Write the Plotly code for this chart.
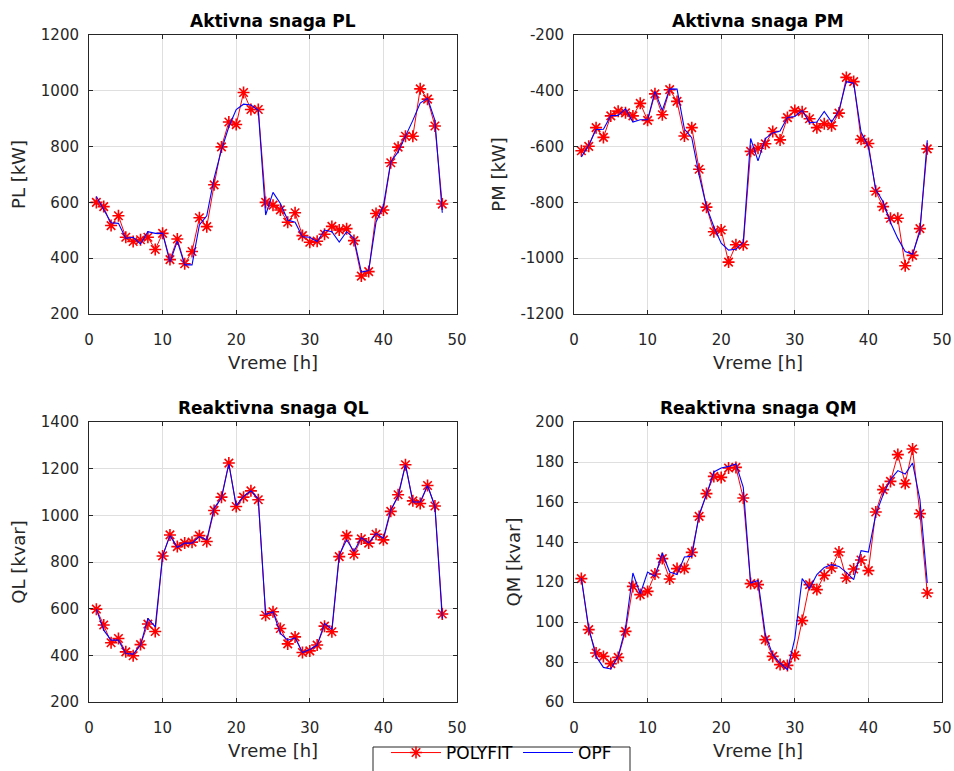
import plotly.graph_objects as go

hours = list(range(1, 49))

PL_polyfit = [600, 585, 517, 552, 475, 460, 466, 475, 431, 489,
              395, 469, 380, 424, 545, 513, 663, 799, 888, 879,
              994, 933, 933, 600, 590, 573, 529, 563, 481, 457,
              461, 486, 514, 501, 506, 463, 336, 352, 560, 573,
              742, 798, 837, 837, 1007, 970, 874, 594]
PL_opf = [621, 575, 527, 525, 471, 475, 451, 495, 489, 490,
          386, 461, 376, 376, 519, 552, 687, 788, 871, 933,
          952, 949, 930, 555, 636, 596, 537, 529, 477, 475,
          460, 501, 495, 458, 495, 471, 350, 356, 530, 588,
          745, 781, 835, 894, 956, 973, 894, 563]

PM_polyfit = [-615, -599, -532, -567, -490, -473, -479, -490, -445, -506,
              -411, -486, -396, -438, -562, -532, -681, -817, -905, -899,
              -1014, -952, -952, -617, -606, -590, -546, -576, -496, -471,
              -475, -500, -532, -518, -525, -480, -352, -367, -574, -589,
              -760, -815, -857, -857, -1027, -990, -894, -608]
PM_opf = [-637, -595, -539, -538, -489, -488, -465, -512, -504, -504,
          -402, -470, -393, -394, -537, -568, -702, -815, -887, -946,
          -971, -968, -942, -571, -651, -571, -551, -544, -496, -492,
          -470, -515, -512, -474, -512, -470, -367, -373, -548, -601,
          -754, -798, -872, -929, -976, -986, -905, -577]

QL_polyfit = [598, 530, 454, 472, 415, 398, 446, 534, 502, 826,
              916, 866, 881, 885, 913, 888, 1021, 1078, 1224, 1038,
              1078, 1105, 1067, 572, 587, 515, 449, 479, 412, 419,
              444, 525, 501, 823, 913, 833, 899, 881, 919, 895,
              1017, 1088, 1217, 1062, 1051, 1128, 1040, 577]
QL_opf = [598, 508, 465, 465, 408, 405, 444, 558, 522, 826,
          913, 862, 881, 881, 909, 895, 1031, 1074, 1220, 1042,
          1081, 1105, 1071, 575, 587, 494, 465, 475, 412, 425,
          444, 537, 511, 830, 895, 845, 905, 881, 923, 902,
          1024, 1081, 1217, 1057, 1057, 1128, 1038, 558]

QM_polyfit = [121.7, 96.2, 84.5, 82.8, 79.2, 82.3, 95.3, 117.8, 113.7, 115.3,
              124.0, 131.7, 121.5, 126.7, 126.7, 134.8, 152.8, 164.2, 172.8, 172.3,
              177.0, 177.3, 162.0, 119.2, 118.7, 91.2, 82.8, 78.7, 78.3, 83.3,
              100.7, 118.7, 116.2, 123.3, 127.0, 135.0, 122.0, 126.5, 131.0, 125.7,
              155.0, 166.2, 170.3, 183.7, 169.2, 186.5, 154.2, 114.5]
QM_opf = [122.0, 97.0, 82.8, 77.3, 76.5, 82.8, 97.0, 124.5, 114.0, 125.0,
          122.8, 134.5, 125.0, 123.7, 132.5, 132.8, 153.7, 163.7, 175.0, 177.0,
          177.8, 179.0, 167.3, 119.5, 120.8, 93.7, 83.7, 79.5, 76.2, 91.7,
          121.7, 116.7, 123.7, 127.3, 128.7, 127.8, 124.8, 121.2, 135.7, 135.0,
          153.7, 163.7, 171.2, 175.7, 174.0, 179.5, 161.2, 119.5]

titles = ["Aktivna snaga PL", "Aktivna snaga PM", "Reaktivna snaga QL", "Reaktivna snaga QM"]
ylabels = ["PL [kW]", "PM [kW]", "QL [kvar]", "QM [kvar]"]
xlabel = "Vreme [h]"
x_ticks = [0, 10, 20, 30, 40, 50]
y_ticks = [
    [200, 400, 600, 800, 1000, 1200],
    [-1200, -1000, -800, -600, -400, -200],
    [200, 400, 600, 800, 1000, 1200, 1400],
    [60, 80, 100, 120, 140, 160, 180, 200],
]
series = [(PL_polyfit, PL_opf), (PM_polyfit, PM_opf), (QL_polyfit, QL_opf), (QM_polyfit, QM_opf)]

W, H = 954, 771
# axes boxes in pixels (left, right, top, bottom)
boxes = [(89, 457, 35, 314), (574, 942, 35, 314), (89, 457, 422, 702), (574, 942, 422, 702)]

AX = "#262626"
GRID = "#dfdfdf"
FONT = "DejaVu Sans"

fig = go.Figure()
for i, (poly, opf) in enumerate(series):
    sfx = "" if i == 0 else str(i + 1)
    fig.add_trace(go.Scatter(
        x=hours, y=poly, mode="lines+markers", name="POLYFIT",
        line=dict(color="#ff0000", width=1),
        marker=dict(symbol="asterisk-open", size=10, color="#ff0000",
                    line=dict(color="#ff0000", width=1.6)),
        xaxis="x" + sfx, yaxis="y" + sfx, showlegend=(i == 0)))
    fig.add_trace(go.Scatter(
        x=hours, y=opf, mode="lines", name="OPF",
        line=dict(color="#0000ff", width=1.1),
        xaxis="x" + sfx, yaxis="y" + sfx, showlegend=(i == 0)))

layout = dict(
    width=W, height=H, margin=dict(l=0, r=0, t=0, b=0),
    paper_bgcolor="white", plot_bgcolor="white",
    font=dict(family=FONT, color=AX),
    legend=dict(orientation="h", x=(373 + 630) / 2 / W, xanchor="center",
                y=0, yanchor="bottom", bgcolor="rgba(0,0,0,0)",
                borderwidth=0,
                font=dict(family=FONT, size=17, color="#000000"),
                itemwidth=50, tracegroupgap=0),
    annotations=[],
    shapes=[dict(type="rect", xref="paper", yref="paper",
                 x0=373 / W, x1=630 / W, y0=-20 / H, y1=1 - 747 / H,
                 line=dict(color=AX, width=1), fillcolor="rgba(0,0,0,0)", layer="below")],
)

for i, (l, r, t, b) in enumerate(boxes):
    sfx = "" if i == 0 else str(i + 1)
    common = dict(showline=True, linecolor=AX, linewidth=1, mirror="ticks",
                  ticks="inside", ticklen=4, tickcolor=AX, tickwidth=1,
                  showgrid=True, gridcolor=GRID, gridwidth=1, zeroline=False,
                  tickfont=dict(family=FONT, size=15, color=AX),
                  automargin=False)
    layout["xaxis" + sfx] = dict(
        common, domain=[l / W, r / W], anchor="y" + sfx,
        range=[0, 50], tickmode="array", tickvals=x_ticks,
        ticktext=[str(v) for v in x_ticks], ticklabelstandoff=12,
        title=dict(text=xlabel, font=dict(family=FONT, size=18, color=AX), standoff=8))
    yt = y_ticks[i]
    layout["yaxis" + sfx] = dict(
        common, domain=[1 - b / H, 1 - t / H], anchor="x" + sfx,
        range=[yt[0], yt[-1]], tickmode="array", tickvals=yt,
        ticktext=[str(v) for v in yt], ticklabelstandoff=6,
        title=dict(text=ylabels[i], font=dict(family=FONT, size=18, color=AX), standoff=10))
    layout["annotations"].append(dict(
        text="<b>" + titles[i] + "</b>", x=(l + r) / 2 / W, y=1 - t / H,
        xref="paper", yref="paper", xanchor="center", yanchor="bottom",
        yshift=2, showarrow=False,
        font=dict(family=FONT, size=17, color="#000000")))

fig.update_layout(**layout)
fig.write_html("out.html")
